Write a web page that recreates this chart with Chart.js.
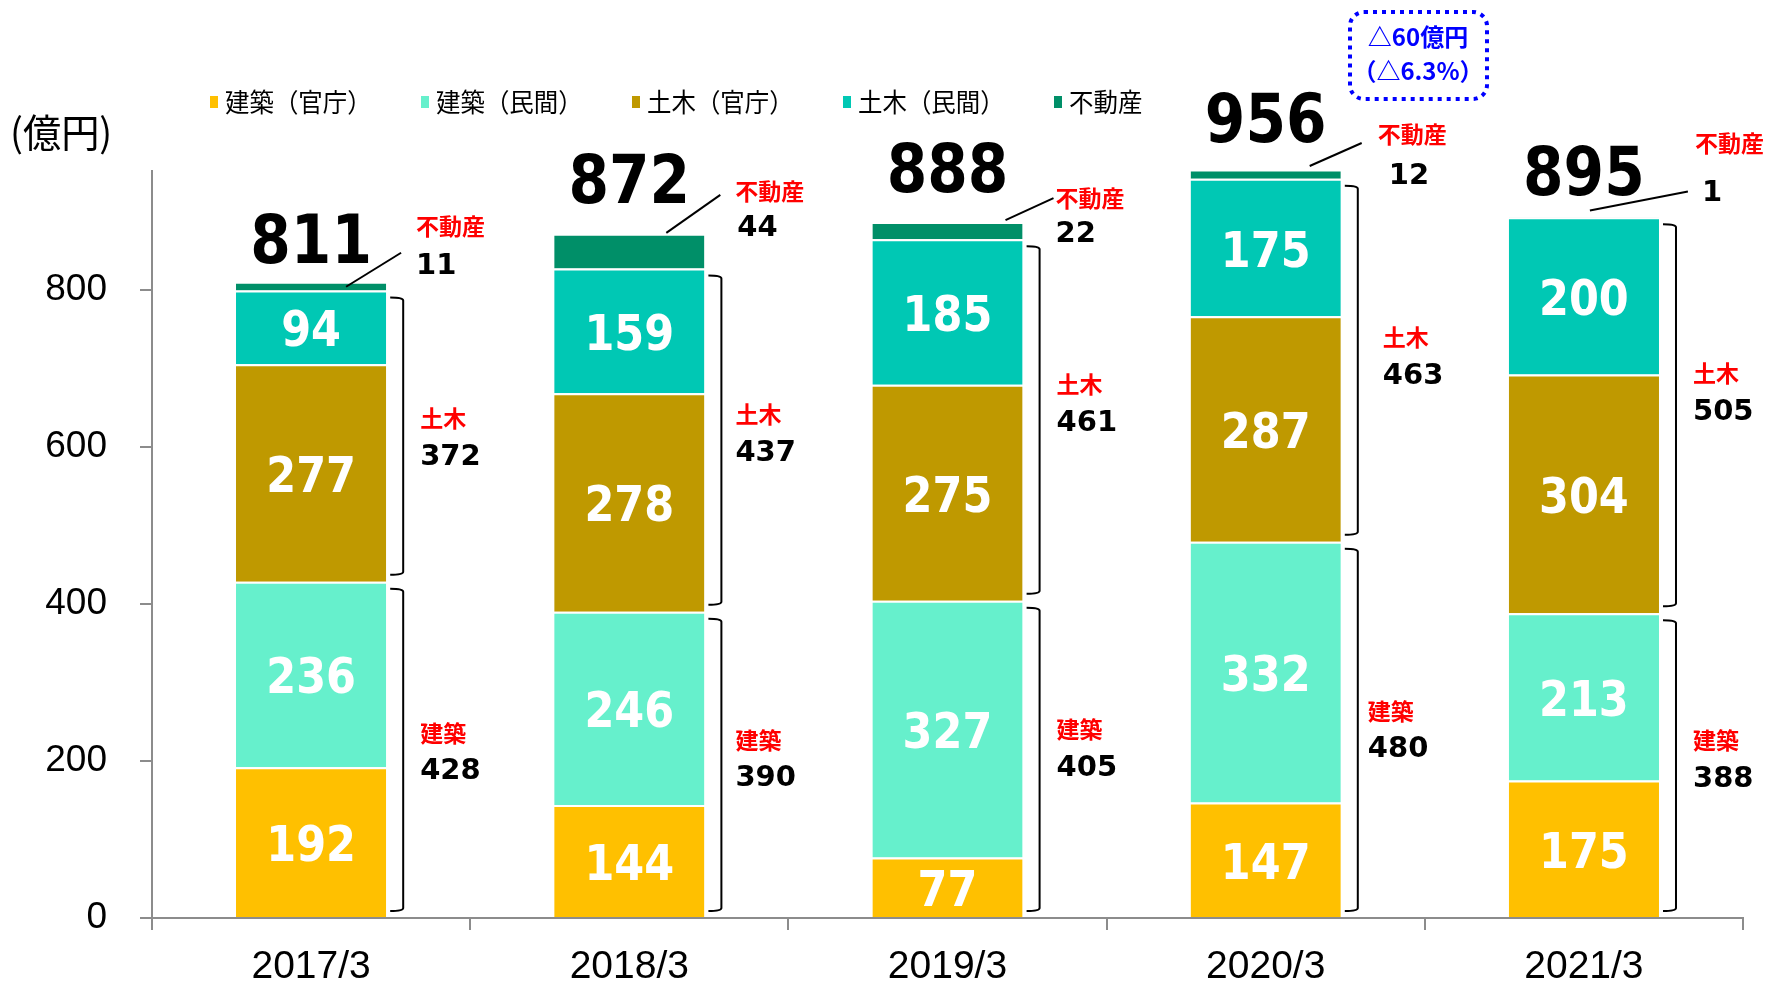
<!DOCTYPE html>
<html lang="ja">
<head>
<meta charset="utf-8">
<script src="https://cdn.jsdelivr.net/npm/chart.js"></script>
<style>
  html, body { margin: 0; padding: 0; background: #fff; }
  #wrap { width: 1769px; height: 986px; }
</style>
</head>
<body>
<div id="wrap"><canvas id="chart" width="1769" height="986"></canvas></div>
<script>
/* ---------- DATA ---------- */
const years = ['2017/3', '2018/3', '2019/3', '2020/3', '2021/3'];
const seriesNames = ['建築（官庁）', '建築（民間）', '土木（官庁）', '土木（民間）', '不動産'];
const kenchikuPub = [192, 144, 77, 147, 175];
const kenchikuPriv = [236, 246, 327, 332, 213];
const dobokuPub = [277, 278, 275, 287, 304];
const dobokuPriv = [94, 159, 185, 175, 200];
const realEstate = [11, 44, 22, 12, 1];
const totals = [811, 872, 888, 956, 895];
const kenchikuSum = [428, 390, 405, 480, 388];
const dobokuSum = [372, 437, 461, 463, 505];
const yTickValues = [0, 200, 400, 600, 800];
const yMax = 951;

const colors = ['#FFC000', '#66F0CC', '#BF9900', '#00C8B4', '#008F68'];

/* ---------- LAYOUT CONSTANTS ---------- */
// 不動産 callouts, offsets from bar centre / stack top (px)
const reCallout = [
  { sx: 35, sy: 5,  ex: 90,  ey: -29, lx: 105, ly: -55, nx: 105, ny: -15 },
  { sx: 37, sy: -1, ex: 91,  ey: -39, lx: 106, ly: -43, nx: 108, ny: -5 },
  { sx: 58, sy: -2, ex: 106, ey: -24, lx: 108, ly: -24, nx: 108, ny: 12 },
  { sx: 44, sy: -5, ex: 96,  ey: -28, lx: 112, ly: -37, nx: 123, ny: 5 },
  { sx: 6,  sy: -6, ex: 104, ey: -25, lx: 111, ly: -73, nx: 118, ny: -23 }
];
const totalOffsetY = [-36, -48, -47, -46, -39];
// bracket label nudges [建築, 土木] (dx, dy)
const bracketNudge = [
  [[0, 3], [0, 2]],
  [[-3, -5], [-3, -6]],
  [[0, -10], [0, -16]],
  [[-7, 1], [8, -3]],
  [[0, -5], [0, -22]]
];

const CJK = '"Noto Sans CJK JP", "Noto Sans", sans-serif';
const NUM = '"DejaVu Sans", Verdana, sans-serif';
const AXIS = '"Liberation Sans", Arial, sans-serif';

function txt(ctx, s, x, y, font, color, align, sx) {
  ctx.save();
  ctx.font = font;
  ctx.fillStyle = color;
  ctx.textAlign = align || 'left';
  ctx.textBaseline = 'middle';
  ctx.translate(x, y);
  ctx.scale(sx || 1, 1);
  ctx.fillText(s, 0, 0);
  ctx.restore();
}

/* ---------- ANNOTATIONS ---------- */
const annotations = {
  id: 'annotations',
  afterDatasetsDraw(chart) {
    const ctx = chart.ctx;
    const y = chart.scales.y;
    const area = chart.chartArea;

    // white values inside segments
    for (let d = 0; d < 4; d++) {
      const meta = chart.getDatasetMeta(d);
      meta.data.forEach((bar, i) => {
        const p = bar.getProps(['x', 'y', 'base'], true);
        txt(ctx, String(chart.data.datasets[d].data[i]), p.x, (p.y + p.base) / 2 + 6,
          'bold 50px ' + NUM, '#fff', 'center', 0.86);
      });
    }

    const top = chart.getDatasetMeta(0).data;
    years.forEach((yr, i) => {
      const bar = top[i].getProps(['x', 'width'], true);
      const cx = bar.x;
      const right = bar.x + bar.width / 2;
      const sum = kenchikuPub[i] + kenchikuPriv[i] + dobokuPub[i] + dobokuPriv[i] + realEstate[i];
      const topY = Math.max(y.getPixelForValue(sum), area.top);

      // total
      txt(ctx, String(totals[i]), cx, topY + totalOffsetY[i], 'bold 67px ' + NUM, '#000', 'center', 0.87);

      // 不動産 leader + label
      const c = reCallout[i];
      ctx.save();
      ctx.strokeStyle = '#000';
      ctx.lineWidth = 2;
      ctx.beginPath();
      ctx.moveTo(cx + c.sx, topY + c.sy);
      ctx.lineTo(cx + c.ex, topY + c.ey);
      ctx.stroke();
      ctx.restore();
      txt(ctx, '不動産', cx + c.lx, topY + c.ly, 'bold 23px ' + CJK, '#FF0000');
      txt(ctx, String(realEstate[i]), cx + c.nx, topY + c.ny, 'bold 29px ' + NUM, '#000');

      // brackets
      const groups = [
        { lo: 0, hi: kenchikuPub[i] + kenchikuPriv[i], name: '建築', val: kenchikuSum[i] },
        { lo: kenchikuPub[i] + kenchikuPriv[i],
          hi: kenchikuPub[i] + kenchikuPriv[i] + dobokuPub[i] + dobokuPriv[i],
          name: '土木', val: dobokuSum[i] }
      ];
      groups.forEach((g, k) => {
        const y1 = y.getPixelForValue(g.hi) + 7;
        const y2 = y.getPixelForValue(g.lo) - 7;
        const bx = right + 17;
        ctx.save();
        ctx.strokeStyle = '#000';
        ctx.lineWidth = 2;
        ctx.beginPath();
        ctx.moveTo(right + 4, y1);
        ctx.quadraticCurveTo(bx, y1, bx, y1 + 3);
        ctx.lineTo(bx, y2 - 3);
        ctx.quadraticCurveTo(bx, y2, right + 4, y2);
        ctx.stroke();
        ctx.restore();
        const [dx, dy] = bracketNudge[i][k];
        const mid = (y1 + y2) / 2 + dy;
        txt(ctx, g.name, right + 34 + dx, mid - 20, 'bold 23px ' + CJK, '#FF0000');
        txt(ctx, String(g.val), right + 34 + dx, mid + 19, 'bold 29px ' + NUM, '#000');
      });
    });
  },
  afterDraw(chart) {
    const ctx = chart.ctx;

    // legend
    seriesNames.forEach((name, i) => {
      const x = 210 + i * 211;
      ctx.fillStyle = colors[i];
      ctx.fillRect(x, 96, 8, 12);
      txt(ctx, name, x + 15, 102, '26px ' + CJK, '#000', 'left', 0.94);
    });

    // unit
    txt(ctx, '(億円)', 10, 132, '39px ' + CJK, '#000', 'left', 0.98);

    // change box
    ctx.save();
    ctx.strokeStyle = '#0000FF';
    ctx.lineWidth = 4;
    ctx.setLineDash([4, 5]);
    ctx.beginPath();
    ctx.roundRect(1350, 12, 137, 87, 14);
    ctx.stroke();
    ctx.restore();
    txt(ctx, '△60億円', 1418, 37, 'bold 24px ' + CJK, '#0000FF', 'center');
    txt(ctx, '（△6.3%）', 1418, 71, 'bold 24px ' + CJK, '#0000FF', 'center');
  }
};

/* ---------- CHART ---------- */
const series = [kenchikuPub, kenchikuPriv, dobokuPub, dobokuPriv, realEstate];

new Chart(document.getElementById('chart'), {
  type: 'bar',
  data: {
    labels: years,
    datasets: series.map((s, i) => ({
      label: seriesNames[i],
      data: s,
      backgroundColor: colors[i],
      borderColor: '#fff',
      borderWidth: { top: 2, left: 0, right: 0, bottom: 0 },
      borderSkipped: false,
      categoryPercentage: 1,
      barPercentage: 0.472
    }))
  },
  options: {
    responsive: false,
    animation: false,
    layout: { padding: { top: 171, right: 26, left: 0, bottom: 0 } },
    plugins: { legend: { display: false }, tooltip: { enabled: false } },
    scales: {
      x: {
        stacked: true,
        afterFit(s) { s.height = 68; },
        grid: { offset: true, drawOnChartArea: false, tickLength: 12, color: '#8c8c8c', lineWidth: 2 },
        border: { color: '#8c8c8c', width: 2 },
        ticks: { color: '#000', font: { family: AXIS, size: 39 }, padding: 14 }
      },
      y: {
        stacked: true,
        min: 0,
        max: yMax,
        afterFit(s) { s.width = 152; },
        afterBuildTicks(s) { s.ticks = yTickValues.map(v => ({ value: v })); },
        grid: { drawOnChartArea: false, tickLength: 12, color: '#8c8c8c', lineWidth: 2 },
        border: { color: '#8c8c8c', width: 2 },
        ticks: { color: '#000', font: { family: AXIS, size: 37 }, padding: 33 }
      }
    }
  },
  plugins: [annotations]
});
</script>
</body>
</html>
